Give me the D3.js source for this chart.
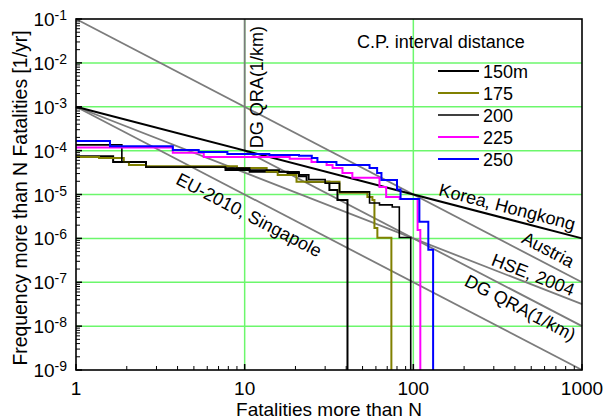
<!DOCTYPE html>
<html>
<head>
<meta charset="utf-8">
<script src="https://cdn.jsdelivr.net/npm/d3@7"></script>
<style>
  body { margin: 0; background: #fff; }
</style>
</head>
<body>
<div class="container"></div>
<script>
// axis ticks
let xTickValues = [1, 10, 100, 1000]
let yExponents = [-1, -2, -3, -4, -5, -6, -7, -8, -9]

// step curves [N, F] (F holds until next N), then the last N where it drops
let seriesNames = ["150m", "175", "200", "225", "250"]
let seriesColors = ["#000000", "#808000", "#000000", "#ff00ff", "#0000ff"]
let seriesWidths = [2, 2, 1.6, 2, 2]

let steps150 = [[1, 7.4e-5], [1.66, 5.5e-5], [2.6, 4.25e-5], [7.7, 3.6e-5], [10.7, 3.3e-5], [18, 3.1e-5],
  [21, 2.6e-5], [23.3, 1.94e-5], [31.8, 1.27e-5], [35.5, 7.5e-6]]
let steps175 = [[1, 7.2e-5], [1.37, 6.8e-5], [1.92, 5.5e-5], [2.06, 4.7e-5], [2.6, 4.4e-5], [9, 4.0e-5],
  [13.5, 3.3e-5], [15.7, 2.8e-5], [20.3, 1.94e-5], [36.5, 1.09e-5], [53.4, 8.8e-6], [57.2, 7.5e-6],
  [58.8, 1.73e-6], [61.2, 1.03e-6]]
let steps200 = [[1, 1.35e-4], [1.87, 5.5e-5], [2.6, 4.25e-5], [7.7, 4.0e-5], [10.7, 3.6e-5], [16, 3.3e-5],
  [21, 2.8e-5], [24, 2.2e-5], [30, 1.8e-5], [36.5, 1.15e-5], [55, 6.4e-6], [63, 5.8e-6], [75, 5.2e-6],
  [82.6, 1.05e-6]]
let steps225 = [[1, 1.18e-4], [3.75, 8.9e-5], [5.72, 7.2e-5], [18.5, 6.5e-5], [24.9, 5.5e-5], [30.6, 4.7e-5],
  [33.2, 4.0e-5], [38, 3.1e-5], [43.5, 2.4e-5], [63, 1.49e-5], [69, 8.8e-6], [83, 7.9e-6], [106, 1.56e-6]]
let steps250 = [[1, 1.66e-4], [1.59, 1.25e-4], [3.75, 1.04e-4], [5.34, 9.3e-5], [7.9, 8.4e-5], [14, 8.0e-5],
  [21, 7.6e-5], [25, 6.8e-5], [27, 5.5e-5], [35, 4.7e-5], [55, 4.0e-5], [61, 3.1e-5], [64.7, 2.15e-5],
  [80, 1.3e-5], [84, 7.9e-6], [108.6, 2.38e-6], [122.7, 5.5e-7]]
let seriesEnds = [40.7, 74.1, 96.5, 110, 131]

// criterion lines
let austria = [[1, 1e-1], [1000, 1e-7]]
let korea = [[1, 1e-3], [1000, 1e-6]]
let hse = [[1, 1e-3], [1000, 3.16e-8]]
let euSingapore = [[10, 1e-4], [1000, 1e-8]]
let dgQra = [[1, 1e-3], [1000, 1e-9]]
let dgVertical = [[10, 1e-1], [10, 1e-4]]

let width = 605
let height = 420
let plotLeft = 76, plotRight = 582, plotTop = 19, plotBottom = 370
let font = "'Liberation Sans', Arial, sans-serif"

let svg = d3.select(".container")
  .append("svg")
  .attr("width", width)
  .attr("height", height)

let x = d3.scaleLog().domain([1, 1000]).range([plotLeft, plotRight])
let y = d3.scaleLog().domain([1e-9, 1e-1]).range([plotBottom, plotTop])

// green grid
svg.selectAll(".hgrid")
  .data(yExponents.slice(1, -1))
  .enter()
  .append("line")
  .attr("x1", plotLeft).attr("x2", plotRight)
  .attr("y1", function (d) { return y(Math.pow(10, d)) })
  .attr("y2", function (d) { return y(Math.pow(10, d)) })
  .attr("stroke", "#6cf76c")
  .attr("stroke-width", 1.5)

svg.selectAll(".vgrid")
  .data(xTickValues.slice(1, -1))
  .enter()
  .append("line")
  .attr("y1", plotTop).attr("y2", plotBottom)
  .attr("x1", function (d) { return x(d) })
  .attr("x2", function (d) { return x(d) })
  .attr("stroke", "#6cf76c")
  .attr("stroke-width", 1.5)

// criterion lines
let line = d3.line()
  .x(function (d) { return x(d[0]) })
  .y(function (d) { return y(d[1]) })

let grayLines = [austria, hse, euSingapore, dgQra, dgVertical]
svg.selectAll(".crit")
  .data(grayLines)
  .enter()
  .append("path")
  .attr("d", line)
  .attr("fill", "none")
  .attr("stroke", "#7c7c7c")
  .attr("stroke-width", 1.8)

svg.append("path")
  .attr("d", line(korea))
  .attr("fill", "none")
  .attr("stroke", "#000")
  .attr("stroke-width", 2)

// step curves
let stepLine = d3.line()
  .x(function (d) { return x(d[0]) })
  .y(function (d) { return y(d[1]) })
  .curve(d3.curveStepAfter)

let allSteps = [steps150, steps175, steps200, steps225, steps250]
for (let i = 0; i < allSteps.length; i++) {
  let pts = allSteps[i].slice()
  let last = pts[pts.length - 1]
  pts.push([seriesEnds[i], last[1]])
  pts.push([seriesEnds[i], 1e-9])
  svg.append("path")
    .attr("d", stepLine(pts))
    .attr("fill", "none")
    .attr("stroke", seriesColors[i])
    .attr("stroke-width", seriesWidths[i])
}

// frame
svg.append("rect")
  .attr("x", plotLeft).attr("y", plotTop)
  .attr("width", plotRight - plotLeft).attr("height", plotBottom - plotTop)
  .attr("fill", "none")
  .attr("stroke", "#000")
  .attr("stroke-width", 1.6)

// minor / major ticks
let yMinor = []
for (let e = -9; e < -1; e++) {
  for (let m = 2; m <= 9; m++) yMinor.push(m * Math.pow(10, e))
}
svg.selectAll(".ytick")
  .data(yMinor)
  .enter()
  .append("line")
  .attr("x1", plotLeft).attr("x2", plotLeft + 4)
  .attr("y1", function (d) { return y(d) })
  .attr("y2", function (d) { return y(d) })
  .attr("stroke", "#000")
  .attr("stroke-width", 1)
svg.selectAll(".ymajor")
  .data(yExponents)
  .enter()
  .append("line")
  .attr("x1", plotLeft).attr("x2", plotLeft + 6)
  .attr("y1", function (d) { return y(Math.pow(10, d)) })
  .attr("y2", function (d) { return y(Math.pow(10, d)) })
  .attr("stroke", "#000")
  .attr("stroke-width", 1.5)

let xMinor = []
for (let e = 0; e < 3; e++) {
  for (let m = 2; m <= 9; m++) xMinor.push(m * Math.pow(10, e))
}
svg.selectAll(".xtick")
  .data(xMinor)
  .enter()
  .append("line")
  .attr("y1", plotBottom).attr("y2", plotBottom - 4)
  .attr("x1", function (d) { return x(d) })
  .attr("x2", function (d) { return x(d) })
  .attr("stroke", "#000")
  .attr("stroke-width", 1)
svg.selectAll(".xmajor")
  .data(xTickValues)
  .enter()
  .append("line")
  .attr("y1", plotBottom).attr("y2", plotBottom - 6)
  .attr("x1", function (d) { return x(d) })
  .attr("x2", function (d) { return x(d) })
  .attr("stroke", "#000")
  .attr("stroke-width", 1.5)

// tick labels
svg.selectAll(".ylabel")
  .data(yExponents)
  .enter()
  .append("text")
  .attr("x", 67)
  .attr("y", function (d) { return y(Math.pow(10, d)) + 7 })
  .attr("text-anchor", "end")
  .attr("font-family", font)
  .attr("font-size", "19px")
  .attr("fill", "#000")
  .each(function (d) {
    let t = d3.select(this)
    t.append("tspan").text("10")
    t.append("tspan").attr("dy", -6).attr("font-size", "14px").text(d)
  })

svg.selectAll(".xlabel")
  .data(xTickValues)
  .enter()
  .append("text")
  .attr("x", function (d) { return x(d) })
  .attr("y", 395)
  .attr("text-anchor", "middle")
  .attr("font-family", font)
  .attr("font-size", "19px")
  .text(function (d) { return d })

// axis titles
svg.append("text")
  .attr("x", (plotLeft + plotRight) / 2)
  .attr("y", 416)
  .attr("text-anchor", "middle")
  .attr("font-family", font)
  .attr("font-size", "19px")
  .text("Fatalities more than N")

svg.append("text")
  .attr("transform", "translate(27," + 198 + ") rotate(-90)")
  .attr("text-anchor", "middle")
  .attr("font-family", font)
  .attr("font-size", "19.4px")
  .text("Frequency more than N Fatalities [1/yr]")

// line annotations, angle follows the line slope
function slopeAngle(seg) {
  let dx = x(seg[1][0]) - x(seg[0][0])
  let dy = y(seg[1][1]) - y(seg[0][1])
  return Math.atan2(dy, dx) * 180 / Math.PI
}
let notes = [
  { text: "Korea, Hongkong", at: [360, 5.2e-6], seg: korea },
  { text: "Austria", at: [629, 5.5e-7], seg: austria },
  { text: "HSE, 2004", at: [513, 1.47e-7], seg: hse },
  { text: "DG QRA(1/km)", at: [430, 2.6e-8], seg: dgQra },
  { text: "EU-2010, Singapole", at: [10.6, 3.4e-6], seg: dgQra },
  { text: "DG QRA(1/km)", at: [11.9, 2.8e-3], seg: [[1, 1e-9], [1, 1e-8]] }
]
svg.selectAll(".note")
  .data(notes)
  .enter()
  .append("text")
  .attr("transform", function (d) {
    return "translate(" + x(d.at[0]) + "," + y(d.at[1]) + ") rotate(" + slopeAngle(d.seg) + ")"
  })
  .attr("text-anchor", "middle")
  .attr("dominant-baseline", "central")
  .attr("font-family", font)
  .attr("font-size", "18px")
  .attr("fill", "#000")
  .text(function (d) { return d.text })

// legend
svg.append("text")
  .attr("x", 357)
  .attr("y", 48)
  .attr("font-family", font)
  .attr("font-size", "18px")
  .text("C.P. interval distance")

let legend = svg.selectAll(".legend")
  .data(seriesNames)
  .enter()
  .append("g")
  .attr("transform", function (d, i) { return "translate(438," + (71 + i * 22) + ")" })
legend.append("line")
  .attr("x1", 0).attr("x2", 41)
  .attr("stroke", function (d, i) { return seriesColors[i] })
  .attr("stroke-width", function (d, i) { return seriesWidths[i] })
legend.append("text")
  .attr("x", 45)
  .attr("y", 6.5)
  .attr("font-family", font)
  .attr("font-size", "18px")
  .text(function (d) { return d })
</script>
</body>
</html>
